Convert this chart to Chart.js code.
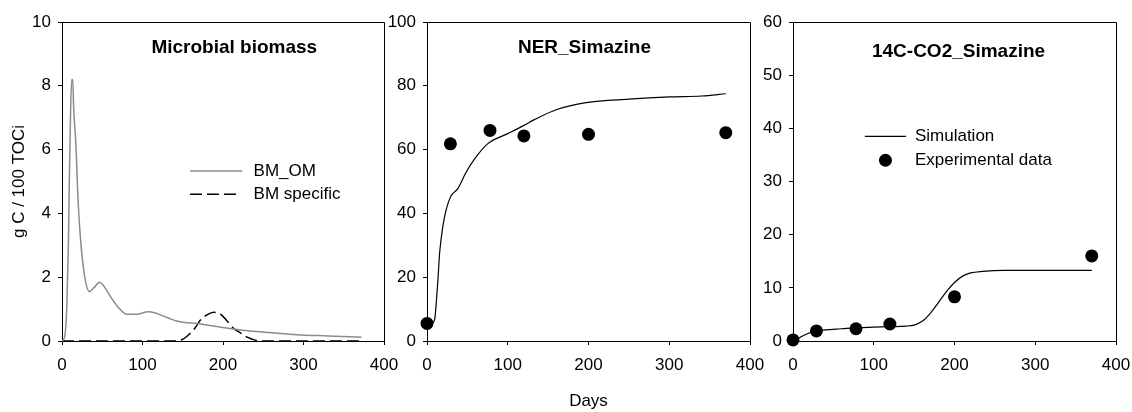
<!DOCTYPE html>
<html>
<head>
<meta charset="utf-8">
<script src="https://cdn.jsdelivr.net/npm/chart.js@4.4.0/dist/chart.umd.min.js"></script>
<style>
  html, body { margin: 0; padding: 0; background: #fff; }
  #wrap { position: relative; width: 1132px; height: 412px; overflow: hidden; }
  canvas { position: absolute; top: 0; }
</style>
</head>
<body>
<div id="wrap">
  <canvas id="bmChart" width="400" height="412" style="left:0px"></canvas>
  <canvas id="nerChart" width="392" height="412" style="left:380px"></canvas>
  <canvas id="co2Chart" width="377" height="412" style="left:755px"></canvas>
</div>
<script>
// Microbial biomass (g C / 100 TOCi)
const bmOmDays = [0, 3, 6, 8, 9, 10.4, 12, 13.3, 14.5, 17.4, 19.5, 23, 28, 34, 40, 46.6, 52, 61, 70, 80, 92.5, 107, 116, 122, 132, 142, 172, 200, 234, 260, 297, 330, 372];
const bmOm = [0, 0.1, 1.1, 3.1, 4.85, 6.85, 8.2, 8.2, 7.3, 6.1, 4.66, 3.2, 2.05, 1.55, 1.68, 1.84, 1.72, 1.36, 1.05, 0.84, 0.84, 0.92, 0.88, 0.82, 0.72, 0.63, 0.53, 0.42, 0.31, 0.26, 0.19, 0.16, 0.12];
const bmSpecDays = [0, 50, 100, 140, 148, 155, 165, 172, 180, 189, 198, 206, 213, 222, 230, 241, 250, 300, 370];
const bmSpec = [0, 0, 0, 0, 0.03, 0.14, 0.4, 0.66, 0.82, 0.9, 0.82, 0.6, 0.4, 0.25, 0.12, 0.02, 0, 0, 0];

// NER_Simazine
const nerSimDays = [0, 6, 9.5, 11.5, 13.6, 15.7, 19.8, 24, 30, 38, 48.6, 59, 75, 100, 120, 133, 160, 197, 250, 300, 340, 370];
const nerSim = [5, 5.5, 6.8, 12, 19.4, 27.8, 36.2, 41.4, 45.6, 47.7, 53, 57.1, 61.8, 65, 67.6, 69.4, 72.5, 74.7, 75.8, 76.5, 76.8, 77.5];
const nerObsDays = [0, 29, 78, 120, 200, 370];
const nerObs = [5.5, 61.8, 66, 64.3, 64.8, 65.3];

// 14C-CO2_Simazine
const co2SimDays = [0, 5, 10, 20, 30, 40, 60, 80, 100, 120, 140, 150, 160, 170, 180, 190, 200, 210, 220, 235, 260, 300, 370];
const co2Sim = [0, 0.3, 0.8, 1.5, 1.9, 2.1, 2.3, 2.5, 2.6, 2.7, 2.8, 3.0, 3.7, 5.2, 7.2, 9.3, 11.0, 12.2, 12.8, 13.1, 13.3, 13.3, 13.3];
const co2ObsDays = [0, 29, 78, 120, 200, 370];
const co2Obs = [0.2, 1.9, 2.3, 3.2, 8.3, 16];

const xTicks = [0, 100, 200, 300, 400];

const FONT = '"Liberation Sans", Arial, sans-serif';
Chart.defaults.font.family = FONT;
Chart.defaults.color = '#000';

const pairs = (xs, ys) => xs.map((x, i) => ({x: x, y: ys[i]}));

// frame, panel title and small legend drawn inside the plot
const panelDecor = {
    id: 'panelDecor',
    afterDraw(chart, args, opts) {
        const {ctx, chartArea: a, scales} = chart;
        const px = v => scales.x.getPixelForValue(v);
        const py = v => scales.y.getPixelForValue(v);
        ctx.save();
        ctx.strokeStyle = '#000';
        ctx.lineWidth = 1;
        ctx.beginPath();
        ctx.moveTo(a.left, Math.round(a.top) + 0.5);
        ctx.lineTo(Math.round(a.right) + 0.5, Math.round(a.top) + 0.5);
        ctx.lineTo(Math.round(a.right) + 0.5, a.bottom);
        ctx.stroke();

        ctx.fillStyle = '#000';
        ctx.font = 'bold 19px ' + FONT;
        ctx.textAlign = 'center';
        ctx.textBaseline = 'middle';
        ctx.fillText(opts.title, px(opts.titleAt[0]), py(opts.titleAt[1]));

        ctx.font = '17px ' + FONT;
        ctx.textAlign = 'left';
        (opts.legend || []).forEach(item => {
            const y = py(item.y);
            ctx.strokeStyle = item.color;
            ctx.fillStyle = item.color;
            if (item.kind === 'dot') {
                ctx.beginPath();
                ctx.arc(px((item.x0 + item.x1) / 2), y, 6.5, 0, Math.PI * 2);
                ctx.fill();
            } else {
                ctx.lineWidth = item.width;
                ctx.setLineDash(item.dash || []);
                ctx.beginPath();
                ctx.moveTo(px(item.x0), y);
                ctx.lineTo(px(item.x1), y);
                ctx.stroke();
                ctx.setLineDash([]);
            }
            ctx.fillStyle = '#000';
            ctx.fillText(item.label, px(item.textX), y);
        });
        ctx.restore();
    }
};

function panelOptions(cfg) {
    return {
        responsive: false,
        animation: false,
        layout: {padding: {top: 22, right: cfg.padRight, left: 0, bottom: 0}},
        plugins: {
            legend: {display: false},
            tooltip: {enabled: false},
            panelDecor: cfg.decor
        },
        scales: {
            x: {
                type: 'linear',
                min: 0, max: 400,
                afterFit: s => { s.height = 71; s.paddingLeft = 0; s.paddingRight = 0; },
                afterBuildTicks: s => { s.ticks = xTicks.map(v => ({value: v})); },
                grid: {drawOnChartArea: false, drawTicks: true, tickLength: 4, color: '#000'},
                border: {color: '#000', width: 1},
                ticks: {font: {size: 17}, color: '#000', padding: 10, maxRotation: 0},
                title: {
                    display: !!cfg.xTitle, text: cfg.xTitle || '',
                    font: {size: 17}, color: '#000', padding: {top: 0, bottom: 0}
                }
            },
            y: {
                min: 0, max: cfg.yMax,
                afterFit: s => { s.width = cfg.yWidth; s.paddingTop = 0; s.paddingBottom = 0; },
                grid: {drawOnChartArea: false, drawTicks: true, tickLength: 4, color: '#000'},
                border: {color: '#000', width: 1},
                ticks: {stepSize: cfg.yStep, font: {size: 17}, color: '#000', padding: 7},
                title: {
                    display: !!cfg.yTitle, text: cfg.yTitle || '',
                    font: {size: 17}, color: '#000', padding: {top: 9, bottom: 0}
                }
            }
        }
    };
}

function lineSet(label, xs, ys, color, width, dash) {
    return {
        type: 'line', label: label, data: pairs(xs, ys),
        borderColor: color, borderWidth: width, borderDash: dash || [],
        pointRadius: 0, fill: false, cubicInterpolationMode: 'monotone', clip: false
    };
}

function dotSet(label, xs, ys) {
    return {
        type: 'scatter', label: label, data: pairs(xs, ys),
        backgroundColor: '#000', borderColor: '#000', pointRadius: 6.5, borderWidth: 0, clip: false
    };
}

new Chart(document.getElementById('bmChart'), {
    type: 'line',
    data: {datasets: [
        lineSet('BM_OM', bmOmDays, bmOm, '#8c8c8c', 1.5),
        lineSet('BM specific', bmSpecDays, bmSpec, '#000', 1.5, [12, 5])
    ]},
    options: panelOptions({
        padRight: 16, yWidth: 62, yMax: 10, yStep: 2, yTitle: 'g C / 100 TOCi',
        decor: {
            title: 'Microbial biomass', titleAt: [214, 9.2],
            legend: [
                {kind: 'line', x0: 159, x1: 224, y: 5.33, textX: 238, label: 'BM_OM', color: '#8c8c8c', width: 1.5},
                {kind: 'line', x0: 159, x1: 218, y: 4.6, textX: 238, label: 'BM specific', color: '#000', width: 1.6, dash: [12, 5]}
            ]
        }
    }),
    plugins: [panelDecor]
});

new Chart(document.getElementById('nerChart'), {
    type: 'line',
    data: {datasets: [
        lineSet('Simulation', nerSimDays, nerSim, '#000', 1.2),
        dotSet('Experimental data', nerObsDays, nerObs)
    ]},
    options: panelOptions({
        padRight: 22, yWidth: 47, yMax: 100, yStep: 20, xTitle: 'Days',
        decor: {title: 'NER_Simazine', titleAt: [195, 91.8], legend: []}
    }),
    plugins: [panelDecor]
});

new Chart(document.getElementById('co2Chart'), {
    type: 'line',
    data: {datasets: [
        lineSet('Simulation', co2SimDays, co2Sim, '#000', 1.2),
        dotSet('Experimental data', co2ObsDays, co2Obs)
    ]},
    options: panelOptions({
        padRight: 16, yWidth: 38, yMax: 60, yStep: 10,
        decor: {
            title: '14C-CO2_Simazine', titleAt: [205, 54.4],
            legend: [
                {kind: 'line', x0: 89, x1: 140, y: 38.5, textX: 151, label: 'Simulation', color: '#000', width: 1.2},
                {kind: 'dot', x0: 89, x1: 140, y: 34, textX: 151, label: 'Experimental data', color: '#000'}
            ]
        }
    }),
    plugins: [panelDecor]
});
</script>
</body>
</html>
